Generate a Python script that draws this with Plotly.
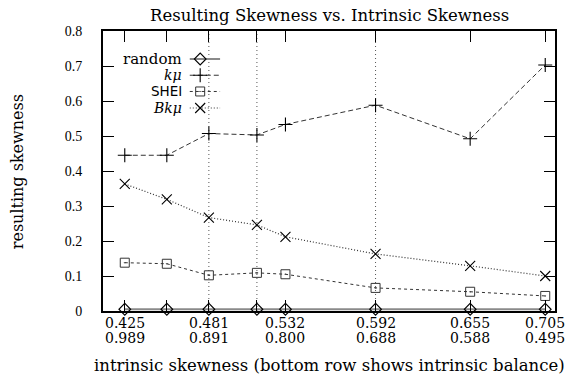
import plotly.graph_objects as go

# ---- data ----
skew = [0.425, 0.453, 0.481, 0.513, 0.532, 0.592, 0.655, 0.705]
random_vals = [0.005, 0.005, 0.005, 0.005, 0.005, 0.005, 0.005, 0.005]
kmu_vals = [0.445, 0.445, 0.507, 0.503, 0.533, 0.588, 0.492, 0.703]
shei_vals = [0.138, 0.135, 0.102, 0.109, 0.105, 0.066, 0.055, 0.043]
bkmu_vals = [0.363, 0.319, 0.267, 0.246, 0.212, 0.163, 0.129, 0.100]

label_skew = [0.425, 0.481, 0.532, 0.592, 0.655, 0.705]
label_skew_text = ["0.425", "0.481", "0.532", "0.592", "0.655", "0.705"]
label_balance_text = ["0.989", "0.891", "0.800", "0.688", "0.588", "0.495"]
grid_x = [0.481, 0.513, 0.592]
y_ticks = [0, 0.1, 0.2, 0.3, 0.4, 0.5, 0.6, 0.7, 0.8]
y_ticktext = ["0", "0.1", "0.2", "0.3", "0.4", "0.5", "0.6", "0.7", "0.8"]

SERIF = "DejaVu Serif"
fig = go.Figure()

series = [
    ("random", random_vals, dict(color="#8a8a8a", width=2, dash="solid"),
     dict(symbol="diamond-open", size=9, color="black", line=dict(width=1.1, color="black"))),
    ("kμ", kmu_vals, dict(color="#333333", width=1, dash="5px,3px"),
     dict(symbol="cross-thin", size=10, color="black", line=dict(width=1.1, color="black"))),
    ("SHEI", shei_vals, dict(color="#333333", width=1, dash="3px,3px"),
     dict(symbol="square-open-dot", size=9, color="#333333", line=dict(width=1, color="#333333"))),
    ("Bkμ", bkmu_vals, dict(color="#333333", width=1.2, dash="1px,2px"),
     dict(symbol="x-thin", size=10, color="black", line=dict(width=1.1, color="black"))),
]

for name, vals, ln, mk in series:
    fig.add_trace(go.Scatter(x=skew, y=vals, mode="lines+markers", name=name,
                             line=ln, marker=mk, showlegend=False, cliponaxis=False))

# ---- manual legend (overlay axes in [0,1]) ----
leg_y = [0.900, 0.842, 0.784, 0.725]
leg_text = ["random", "<i>kμ</i>", "SHEI", "<i>Bkμ</i>"]
leg_font = [(SERIF, 15), (SERIF, 14), ("DejaVu Sans", 13.5), (SERIF, 14)]
for (name, vals, ln, mk), yy, txt, (fnt, fs) in zip(series, leg_y, leg_text, leg_font):
    fig.add_trace(go.Scatter(x=[0.192, 0.259], y=[yy, yy], mode="lines", line=ln,
                             xaxis="x2", yaxis="y2", showlegend=False, hoverinfo="skip"))
    fig.add_trace(go.Scatter(x=[0.215], y=[yy], mode="markers", marker=mk,
                             xaxis="x2", yaxis="y2", showlegend=False, hoverinfo="skip"))
    fig.add_annotation(x=0.177, y=yy, xref="paper", yref="paper", text=txt,
                       showarrow=False, xanchor="right", yanchor="middle",
                       borderpad=0,
                       font=dict(family=fnt, size=fs, color="black"))

# ---- grid lines ----
for g in grid_x:
    fig.add_shape(type="line", xref="x", yref="paper", x0=g, x1=g, y0=0, y1=1,
                  line=dict(color="#555555", width=1, dash="1px,3px"), layer="below")

# ---- two-row x labels ----
for xv, t1, t2 in zip(label_skew, label_skew_text, label_balance_text):
    fig.add_annotation(x=xv, y=-0.041, xref="x", yref="paper", text=t1, showarrow=False,
                       xanchor="center", yanchor="middle", height=13, valign="middle",
                       borderpad=0, font=dict(family=SERIF, size=14, color="black"))
    fig.add_annotation(x=xv, y=-0.095, xref="x", yref="paper", text=t2, showarrow=False,
                       xanchor="center", yanchor="middle", height=13, valign="middle",
                       borderpad=0, font=dict(family=SERIF, size=14, color="black"))

# titles
fig.add_annotation(x=0.502, y=1.057, xref="paper", yref="paper",
                   text="Resulting Skewness vs. Intrinsic Skewness", showarrow=False,
                   xanchor="center", yanchor="middle",
                   font=dict(family=SERIF, size=16.5, color="black"))
fig.add_annotation(x=0.502, y=-0.193, xref="paper", yref="paper",
                   text="intrinsic skewness (bottom row shows intrinsic balance)",
                   showarrow=False, xanchor="center", yanchor="middle",
                   font=dict(family=SERIF, size=16.5, color="black"))
fig.add_annotation(x=-0.190, y=0.496, xref="paper", yref="paper",
                   text="resulting skewness", showarrow=False, textangle=-90,
                   xanchor="center", yanchor="middle",
                   font=dict(family=SERIF, size=16, color="black"))

fig.update_layout(
    width=570, height=379,
    margin=dict(l=103, r=15, t=31, b=68),
    paper_bgcolor="white", plot_bgcolor="white",
    showlegend=False,
    xaxis=dict(range=[0.4105, 0.7115], tickvals=skew, ticktext=[""] * len(skew),
               ticks="inside", ticklen=11, tickwidth=1.3, tickcolor="black",
               showline=True, linewidth=2, linecolor="black", mirror="ticks",
               showgrid=False, zeroline=False),
    yaxis=dict(range=[0, 0.8], tickvals=y_ticks, ticktext=y_ticktext,
               ticks="inside", ticklen=11, tickwidth=1.3, tickcolor="black",
               showline=True, linewidth=2, linecolor="black", mirror="ticks",
               showgrid=False, zeroline=False, ticklabelstandoff=16,
               tickfont=dict(family="Liberation Serif", size=14, color="black")),
    xaxis2=dict(overlaying="x", range=[0, 1], visible=False, anchor="y2"),
    yaxis2=dict(overlaying="y", range=[0, 1], visible=False, anchor="x2"),
)

fig.write_html("out.html")
